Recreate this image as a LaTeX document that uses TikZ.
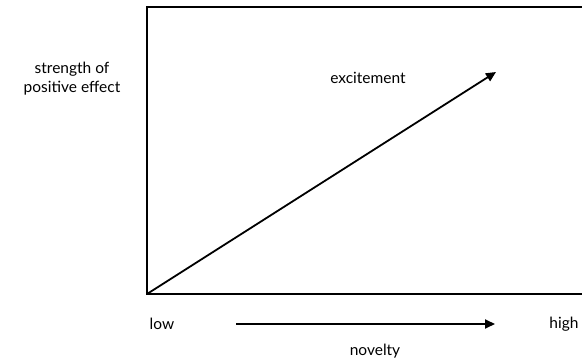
\documentclass[tikz,border=0pt]{standalone}
\usepackage{fontspec}
\setmainfont{Lato}
\usepackage{tikz}
\usetikzlibrary{positioning,arrows.meta}

\begin{document}
\begin{tikzpicture}[
  x=1pt, y=1pt,
  every node/.style={font=\fontsize{15.5}{19}\selectfont},
  axisline/.style={line width=1.6pt},
  trendarrow/.style={line width=1.8pt, -{Triangle[length=10pt,width=9pt]}}
]
  \useasboundingbox (0,0) rectangle (582,362);
  % frame of the chart (open on the right)
  \coordinate (origin) at (147,68);
  \coordinate (topleft) at (147,355);
  \coordinate (topright) at (582,355);
  \coordinate (botright) at (582,68);
  \draw[axisline] (botright) -- (origin) -- (topleft) -- (topright);

  \node[align=center] (strength) at (72,283) {strength of\\positive effect};
  \node (excite) at (368,284) {excitement};
  \coordinate (peak) at (496,290);
  \draw[trendarrow] (origin) -- (peak);

  \node (low) at (162,38) {low};
  \node (high) at (564,38) {high};
  \node (novelty) at (375,11) {novelty};
  \coordinate (from) at (236,38);
  \coordinate (to) at (495,38);
  \draw[trendarrow] (from) -- (to);
\end{tikzpicture}
\end{document}
